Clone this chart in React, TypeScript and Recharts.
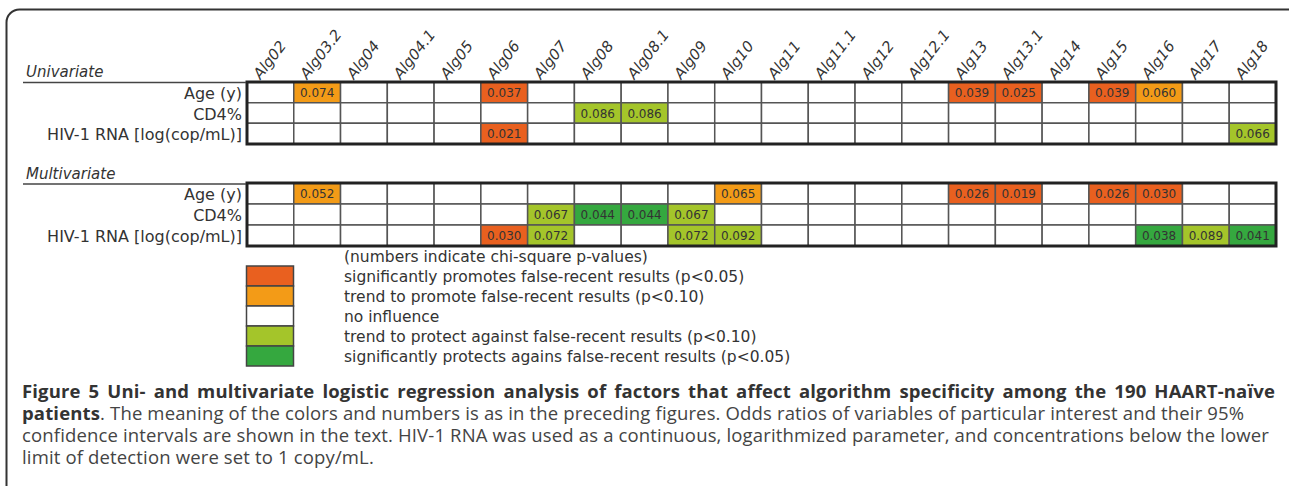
import React from "react";
import { ScatterChart, Scatter, XAxis, YAxis, ReferenceArea } from "recharts";

type Effect = "promote" | "protect";
type Hit = [string, number, Effect];

const algorithms = [
  "Alg02", "Alg03.2", "Alg04", "Alg04.1", "Alg05", "Alg06", "Alg07", "Alg08",
  "Alg08.1", "Alg09", "Alg10", "Alg11", "Alg11.1", "Alg12", "Alg12.1", "Alg13",
  "Alg13.1", "Alg14", "Alg15", "Alg16", "Alg17", "Alg18",
];

const variables = ["Age (y)", "CD4%", "HIV-1 RNA [log(cop/mL)]"];

// univariate p-values
const uniAge: Hit[] = [
  ["Alg03.2", 0.074, "promote"],
  ["Alg06", 0.037, "promote"],
  ["Alg13", 0.039, "promote"],
  ["Alg13.1", 0.025, "promote"],
  ["Alg15", 0.039, "promote"],
  ["Alg16", 0.06, "promote"],
];
const uniCd4: Hit[] = [
  ["Alg08", 0.086, "protect"],
  ["Alg08.1", 0.086, "protect"],
];
const uniRna: Hit[] = [
  ["Alg06", 0.021, "promote"],
  ["Alg18", 0.066, "protect"],
];

// multivariate p-values
const multiAge: Hit[] = [
  ["Alg03.2", 0.052, "promote"],
  ["Alg10", 0.065, "promote"],
  ["Alg13", 0.026, "promote"],
  ["Alg13.1", 0.019, "promote"],
  ["Alg15", 0.026, "promote"],
  ["Alg16", 0.03, "promote"],
];
const multiCd4: Hit[] = [
  ["Alg07", 0.067, "protect"],
  ["Alg08", 0.044, "protect"],
  ["Alg08.1", 0.044, "protect"],
  ["Alg09", 0.067, "protect"],
];
const multiRna: Hit[] = [
  ["Alg06", 0.03, "promote"],
  ["Alg07", 0.072, "protect"],
  ["Alg09", 0.072, "protect"],
  ["Alg10", 0.092, "protect"],
  ["Alg16", 0.038, "protect"],
  ["Alg17", 0.089, "protect"],
  ["Alg18", 0.041, "protect"],
];

const legendNote = "(numbers indicate chi-square p-values)";
const legendLabels = [
  "significantly promotes false-recent results (p<0.05)",
  "trend to promote false-recent results (p<0.10)",
  "no influence",
  "trend to protect against false-recent results (p<0.10)",
  "significantly protects agains false-recent results (p<0.05)",
];

const captionBold = "Figure 5 Uni- and multivariate logistic regression analysis of factors that affect algorithm specificity among the 190 HAART-naïve";
const captionLines = [
  "patients",
  ". The meaning of the colors and numbers is as in the preceding figures. Odds ratios of variables of particular interest and their 95%",
  "confidence intervals are shown in the text. HIV-1 RNA was used as a continuous, logarithmized parameter, and concentrations below the lower",
  "limit of detection were set to 1 copy/mL.",
];

const RED = "#e9601f";
const ORANGE = "#f39b17";
const LIGHT_GREEN = "#a4c52a";
const GREEN = "#35a83f";
const legendColors = [RED, ORANGE, "#ffffff", LIGHT_GREEN, GREEN];

const W = 1289;
const TABLE_FONT = "'DejaVu Sans', Verdana, sans-serif";

function cellColor(p: number, effect: Effect) {
  if (effect === "promote") return p < 0.05 ? RED : ORANGE;
  return p < 0.05 ? GREEN : LIGHT_GREEN;
}

function buildCells(rows: Hit[][]) {
  const out: any[] = [];
  rows.forEach((row, r) => {
    algorithms.forEach((alg, i) => {
      const hit = row.find((h) => h[0] === alg);
      out.push({
        col: i,
        row: r,
        x: i + 0.5,
        y: r + 0.5,
        label: hit ? hit[1].toFixed(3) : "",
        color: hit ? cellColor(hit[1], hit[2]) : "#ffffff",
      });
    });
  });
  return out;
}

const AlgTick = (props: any) => {
  const { x, y, payload } = props;
  const tx = x - 10;
  const ty = y - 2;
  return (
    <text
      x={tx}
      y={ty}
      transform={`rotate(-52, ${tx}, ${ty})`}
      fontSize={15}
      fontStyle="italic"
      fontFamily={TABLE_FONT}
      fill="#333"
    >
      {algorithms[Math.floor(payload.value)]}
    </text>
  );
};

const VarTick = (props: any) => {
  const { x, y, payload } = props;
  return (
    <text x={x} y={y} dy={6.5} textAnchor="end" fontSize={16} fontFamily={TABLE_FONT} fill="#333">
      {variables[Math.floor(payload.value)]}
    </text>
  );
};

const ValueText = (props: any) => {
  const { cx, cy, payload } = props;
  if (!payload.label) return <g />;
  return (
    <text x={cx} y={cy} dy={4.5} textAnchor="middle" fontSize={12} fontFamily={TABLE_FONT} fill="#333">
      {payload.label}
    </text>
  );
};

function HeatTable({ rows, header, height, margin }: { rows: Hit[][]; header: boolean; height: number; margin: any }) {
  const cells = buildCells(rows);
  return (
    <ScatterChart width={W} height={height} margin={margin}>
      <XAxis
        type="number"
        dataKey="x"
        domain={[0, algorithms.length]}
        ticks={algorithms.map((_, i) => i + 0.5)}
        interval={0}
        orientation="top"
        height={82}
        hide={!header}
        axisLine={false}
        tickLine={false}
        tickSize={0}
        tickMargin={0}
        tick={<AlgTick />}
      />
      <YAxis
        type="number"
        dataKey="y"
        domain={[0, variables.length]}
        ticks={variables.map((_, i) => i + 0.5)}
        interval={0}
        reversed
        width={247}
        axisLine={false}
        tickLine={false}
        tickSize={0}
        tickMargin={5}
        tick={<VarTick />}
      />
      {cells.map((c) => (
        <ReferenceArea
          key={`${c.row}-${c.col}`}
          x1={c.col}
          x2={c.col + 1}
          y1={c.row}
          y2={c.row + 1}
          fill={c.color}
          fillOpacity={1}
          stroke="#555"
          strokeWidth={1.5}
          ifOverflow="visible"
        />
      ))}
      <ReferenceArea
        x1={0}
        x2={algorithms.length}
        y1={0}
        y2={variables.length}
        fill="none"
        fillOpacity={0}
        stroke="#222"
        strokeWidth={3}
        ifOverflow="visible"
      />
      <Scatter data={cells} isAnimationActive={false} shape={<ValueText />} />
    </ScatterChart>
  );
}

export default function App() {
  return (
    <div style={{ position: "absolute", left: 0, top: 0, width: W, height: 486, overflow: "hidden", background: "#fff" }}>
      <svg width={W} height={486} style={{ position: "absolute", left: 0, top: 0 }}>
        <rect x={6.5} y={9.5} width={1320} height={600} rx={13} fill="none" stroke="#333" strokeWidth={2} />
      </svg>

      <div style={{ position: "absolute", left: 0, top: 0 }}>
        <HeatTable rows={[uniAge, uniCd4, uniRna]} header height={150} margin={{ top: 0, right: 13, bottom: 6, left: 0 }} />
      </div>
      <div style={{ position: "absolute", left: 0, top: 178 }}>
        <HeatTable rows={[multiAge, multiCd4, multiRna]} header={false} height={72} margin={{ top: 5, right: 13, bottom: 4, left: 0 }} />
      </div>

      <svg width={W} height={486} style={{ position: "absolute", left: 0, top: 0, pointerEvents: "none" }}>
        <g fontFamily={TABLE_FONT} fill="#333">
          <text x={26} y={77} fontSize={15} fontStyle="italic">Univariate</text>
          <line x1={23} x2={246} y1={82.5} y2={82.5} stroke="#444" strokeWidth={1.5} />
          <text x={26} y={179} fontSize={15} fontStyle="italic">Multivariate</text>
          <line x1={23} x2={246} y1={184} y2={184} stroke="#444" strokeWidth={1.5} />
          <text x={344} y={261.5} fontSize={15.5}>{legendNote}</text>
          {legendLabels.map((label, k) => (
            <g key={label}>
              <rect x={246.5} y={266 + k * 20} width={47} height={20} fill={legendColors[k]} stroke="#444" strokeWidth={1.5} />
              <text x={344} y={281.5 + k * 20} fontSize={15.5}>{label}</text>
            </g>
          ))}
        </g>
      </svg>

      <div
        style={{
          position: "absolute",
          left: 22,
          top: 379.6,
          width: 1253,
          fontFamily: "'Open Sans', sans-serif",
          fontSize: 18.5,
          letterSpacing: "0.15px",
          lineHeight: "22.3px",
          color: "#444",
          whiteSpace: "nowrap",
        }}
      >
        <div style={{ fontWeight: 700, color: "#333", textAlign: "justify", textAlignLast: "justify" }}>{captionBold}</div>
        <div>
          <b style={{ color: "#333" }}>{captionLines[0]}</b>
          {captionLines[1]}
        </div>
        <div>{captionLines[2]}</div>
        <div>{captionLines[3]}</div>
      </div>
    </div>
  );
}
